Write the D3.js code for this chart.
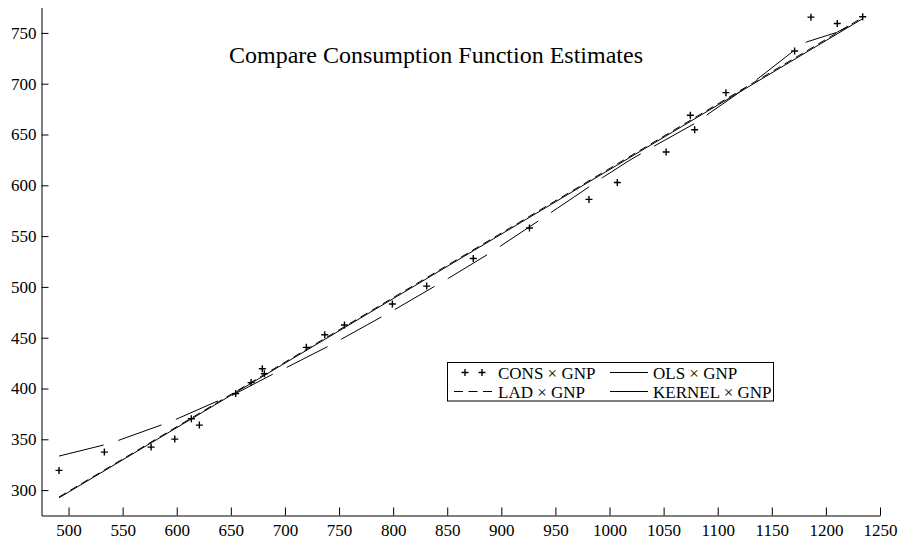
<!DOCTYPE html>
<html>
<head>
<meta charset="utf-8">
<script src="https://cdn.jsdelivr.net/npm/d3@7"></script>
<style>
  html, body { margin: 0; padding: 0; background: #fff; }
  svg { display: block; }
  text { font-family: "Liberation Serif", "Times New Roman", serif; fill: #000; }
</style>
</head>
<body>
<svg id="chart" width="899" height="542"></svg>
<script>
// Observed consumption (CONS) against GNP
const gnp  = [491.2, 533.1, 576.3, 598.2, 613.5, 620.9, 654.5, 668.7, 679.1, 681.0,
              719.8, 736.8, 755.0, 799.3, 831.0, 874.1, 926.0, 981.0, 1007.2, 1052.3,
              1074.7, 1078.7, 1107.6, 1171.1, 1186.2, 1210.5, 1234.0];
const cons = [319.4, 337.4, 342.3, 350.2, 370.2, 364.0, 395.0, 405.8, 419.4, 414.5,
              440.5, 452.9, 462.5, 483.1, 500.8, 528.0, 557.9, 586.1, 602.8, 632.8,
              668.9, 654.7, 691.2, 732.2, 765.5, 759.2, 765.9];

// Fitted lines: OLS and LAD (straight), kernel regression (smooth curve)
const olsX = [491.2, 1234.0];
const olsY = [292.4, 764.0];
const ladX = [491.2, 1234.0];
const ladY = [293.2, 765.2];
const kernelX = [491.2, 532.2, 545.0, 585.5, 598.4, 638.2, 646.0, 688.4, 701.7, 739.2,
                 751.9, 789.5, 801.8, 837.8, 851.0, 887.0, 899.0, 934.6, 946.6, 981.3,
                 993.4, 1019.0, 1042.0, 1079.0, 1091.0, 1114.0, 1136.0, 1171.0, 1182.0,
                 1210.0, 1234.0];
const kernelY = [333.5, 344.3, 348.5, 364.0, 369.2, 387.9, 390.3, 413.9, 420.8, 441.1,
                 448.4, 470.6, 477.9, 500.2, 508.4, 531.7, 540.0, 565.2, 573.7, 598.6,
                 607.5, 624.9, 639.0, 661.0, 670.0, 687.0, 704.0, 733.0, 741.0,
                 750.5, 764.0];

// Axis ticks
const xMajor = d3.range(500, 1251, 50);
const xMinor = d3.range(475, 1250, 50);
const yMajor = d3.range(300, 751, 50);
const yMinor = d3.range(275, 776, 50);

const titleText = "Compare Consumption Function Estimates";
const legendLabels = ["CONS \u00d7 GNP", "OLS \u00d7 GNP", "LAD \u00d7 GNP", "KERNEL \u00d7 GNP"];

const svg = d3.select("#chart");
const serif = "'Liberation Serif', 'Times New Roman', serif";

const x = d3.scaleLinear().domain([475, 1250]).range([41.5, 880]);
const y = d3.scaleLinear().domain([275, 775]).range([515.5, 7.5]);

// Axes with inward ticks
const gx = svg.append("g").attr("transform", "translate(0,515.5)");
gx.call(d3.axisBottom(x).tickValues(xMinor).tickSizeInner(-4).tickSizeOuter(0).tickFormat(""));
gx.call(d3.axisBottom(x).tickValues(xMajor).tickSizeInner(-8).tickSizeOuter(0).tickPadding(8)
  .tickFormat(d3.format("d")));

const gy = svg.append("g").attr("transform", "translate(41.5,0)");
gy.call(d3.axisLeft(y).tickValues(yMinor).tickSizeInner(-4).tickSizeOuter(0).tickFormat(""));
gy.call(d3.axisLeft(y).tickValues(yMajor).tickSizeInner(-7).tickSizeOuter(0).tickPadding(5)
  .tickFormat(d3.format("d")));

svg.selectAll(".tick text")
  .style("font-family", serif).style("font-size", "17px").attr("fill", "#000");
svg.selectAll(".domain, .tick line").attr("stroke", "#000").attr("stroke-width", 1);

// Title
svg.append("text")
  .attr("x", 436).attr("y", 63)
  .attr("text-anchor", "middle")
  .style("font-family", serif).style("font-size", "24px")
  .text(titleText);

const line = d3.line().x(d => x(d[0])).y(d => y(d[1]));

// OLS fit
svg.append("path")
  .datum(d3.zip(olsX, olsY))
  .attr("d", line).attr("fill", "none").attr("stroke", "#000").attr("stroke-width", 1);

// LAD fit, short dashes
svg.append("path")
  .datum(d3.zip(ladX, ladY))
  .attr("d", line).attr("fill", "none").attr("stroke", "#000").attr("stroke-width", 1)
  .attr("stroke-dasharray", "8,5");

// Kernel fit, long dashes
svg.append("path")
  .datum(d3.zip(kernelX, kernelY))
  .attr("d", line).attr("fill", "none").attr("stroke", "#000").attr("stroke-width", 1)
  .attr("stroke-dasharray", "46,15.3");

// Observations as plus markers
const plus = "M-3.5,0H3.5M0,-3.5V3.5";
svg.append("g").selectAll("path")
  .data(d3.zip(gnp, cons))
  .join("path")
  .attr("transform", d => `translate(${x(d[0])},${y(d[1])})`)
  .attr("d", plus)
  .attr("stroke", "#000").attr("stroke-width", 1.4).attr("fill", "none");

// Legend
const lg = svg.append("g");
lg.append("rect")
  .attr("x", 447.5).attr("y", 362.5).attr("width", 326).attr("height", 38.5)
  .attr("fill", "#fff").attr("stroke", "#000").attr("stroke-width", 1);

const row1 = 372.5, row2 = 391.5;
[465, 482].forEach(cx => {
  lg.append("path").attr("transform", `translate(${cx},${row1})`)
    .attr("d", plus).attr("stroke", "#000").attr("stroke-width", 1.4);
});
lg.append("line").attr("x1", 610).attr("x2", 648).attr("y1", row1).attr("y2", row1)
  .attr("stroke", "#000").attr("stroke-width", 1);
lg.append("line").attr("x1", 454).attr("x2", 492).attr("y1", row2).attr("y2", row2)
  .attr("stroke", "#000").attr("stroke-width", 1).attr("stroke-dasharray", "9,5.5");
lg.append("line").attr("x1", 610).attr("x2", 648).attr("y1", row2).attr("y2", row2)
  .attr("stroke", "#000").attr("stroke-width", 1);

const lx = [498, 653, 498, 653];
const ly = [row1, row1, row2, row2];
legendLabels.forEach((t, i) => {
  lg.append("text").attr("x", lx[i]).attr("y", ly[i] + 6)
    .style("font-family", serif).style("font-size", "17px").text(t);
});
</script>
</body>
</html>
